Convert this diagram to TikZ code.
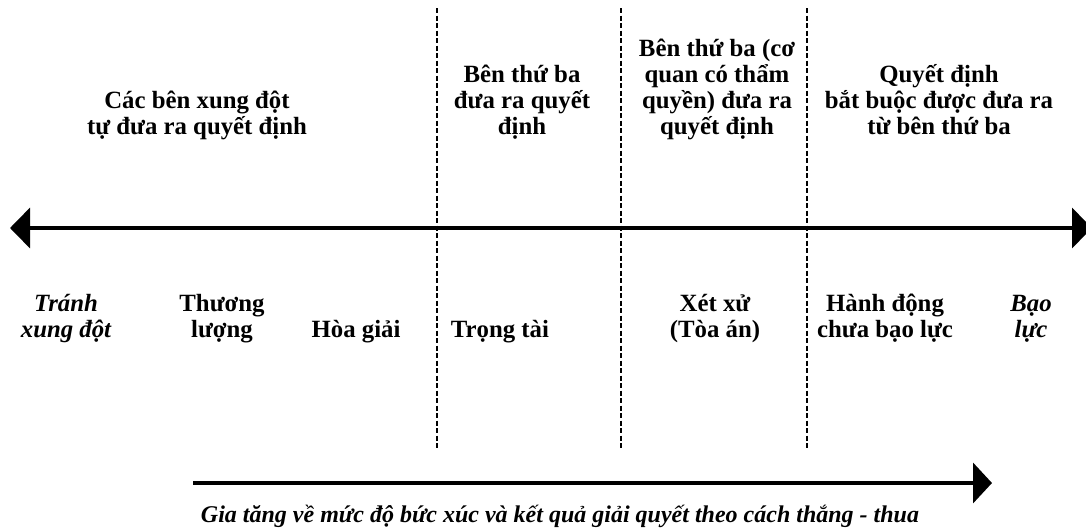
\documentclass[tikz,border=0pt]{standalone}
\usepackage{fontspec}
\setmainfont{Liberation Serif}
\usetikzlibrary{arrows.meta}
\begin{document}
\begin{tikzpicture}[x=1pt,y=-1pt,
  lbl/.style={font=\fontsize{24.8}{26}\selectfont\bfseries, align=center, inner sep=0pt, anchor=base},
  ilbl/.style={lbl, font=\fontsize{24.8}{26}\selectfont\bfseries\itshape},
  capt/.style={lbl, font=\fontsize{24}{26}\selectfont\bfseries\itshape},
  divider/.style={line width=2pt, dash pattern=on 5pt off 2.5pt},
  axis/.style={line width=3.5pt, {Triangle[length=20pt,width=40pt]}-{Triangle[length=20pt,width=40pt]}},
  trend/.style={line width=4pt, -{Triangle[length=19pt,width=40pt]}}]
\fill[white] (0,0) rectangle (1086,531);
\useasboundingbox (0,0) rectangle (1086,531);
% dividers
\coordinate (d1t) at (437,8); \coordinate (d1b) at (437,448);
\coordinate (d2t) at (621,8); \coordinate (d2b) at (621,448);
\coordinate (d3t) at (807,8); \coordinate (d3b) at (807,448);
\draw[divider] (d1t) -- (d1b);
\draw[divider] (d2t) -- (d2b);
\draw[divider] (d3t) -- (d3b);
% main axis
\coordinate (aL) at (10,228); \coordinate (aR) at (1092,228);
\draw[axis] (aL) -- (aR);
% trend arrow
\coordinate (tL) at (193,483); \coordinate (tR) at (992,483);
\draw[trend] (tL) -- (tR);
% top labels (anchor = baseline of last line)
\node[lbl] (t1) at (197,134) {Các bên xung đột\\tự đưa ra quyết định};
\node[lbl] (t2) at (522,134) {Bên thứ ba\\đưa ra quyết\\định};
\node[lbl] (t3) at (717,134) {Bên thứ ba (cơ\\quan có thẩm\\quyền) đưa ra\\quyết định};
\node[lbl] (t4) at (939,134) {Quyết định\\bắt buộc được đưa ra\\từ bên thứ ba};
% bottom labels
\node[ilbl] (b1) at (66,337) {Tránh\\xung đột};
\node[lbl] (b2) at (222,337) {Thương\\lượng};
\node[lbl] (b3) at (356,337) {Hòa giải};
\node[lbl] (b4) at (500,337) {Trọng tài};
\node[lbl] (b5) at (715,337) {Xét xử\\(Tòa án)};
\node[lbl] (b6) at (885,337) {Hành động\\chưa bạo lực};
\node[ilbl] (b7) at (1031,337) {Bạo\\lực};
% caption
\node[capt] (cap) at (560,522) {Gia tăng về mức độ bức xúc và kết quả giải quyết theo cách thắng - thua};
\end{tikzpicture}
\end{document}
